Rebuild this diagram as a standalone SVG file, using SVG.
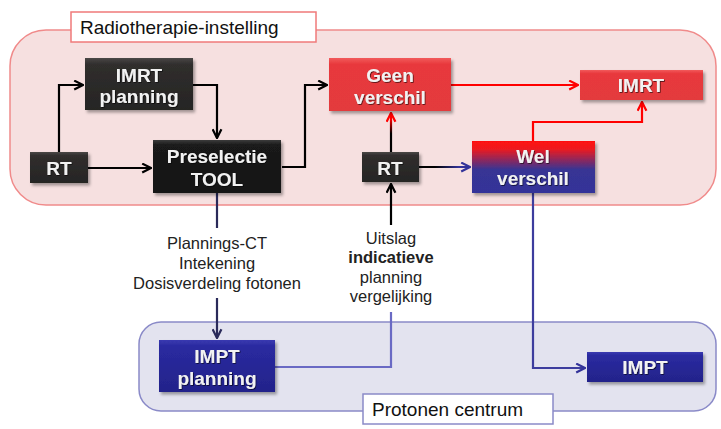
<svg xmlns="http://www.w3.org/2000/svg" width="721" height="429" viewBox="0 0 721 429">
<defs>
<style>
.lbl{font-family:"Liberation Sans",Arial,sans-serif;font-size:19px;fill:#111}
.nt{font-family:"Liberation Sans",Arial,sans-serif;font-size:19px;font-weight:bold;fill:#f2f2f2;text-anchor:middle}
.ann{font-family:"Liberation Sans",Arial,sans-serif;font-size:16.5px;fill:#222;text-anchor:middle}
.c{fill:none;stroke-width:2.2}
</style>
<filter id="sh" x="-10%" y="-10%" width="130%" height="140%">
<feDropShadow dx="2" dy="2.5" stdDeviation="1.5" flood-color="#000" flood-opacity="0.35"/>
</filter>
<filter id="ts" x="-10%" y="-10%" width="120%" height="130%">
<feDropShadow dx="0.8" dy="0.8" stdDeviation="0.5" flood-color="#000" flood-opacity="0.7"/>
</filter>
<linearGradient id="gDark" x1="0" y1="0" x2="0" y2="1">
<stop offset="0" stop-color="#4a4846"/><stop offset="0.12" stop-color="#302e2d"/><stop offset="1" stop-color="#262524"/>
</linearGradient>
<linearGradient id="gBlack" x1="0" y1="0" x2="0" y2="1">
<stop offset="0" stop-color="#3a3a3a"/><stop offset="0.1" stop-color="#1a1a1a"/><stop offset="1" stop-color="#141414"/>
</linearGradient>
<linearGradient id="gRed" x1="0" y1="0" x2="0" y2="1">
<stop offset="0" stop-color="#f25a5c"/><stop offset="0.12" stop-color="#e8393c"/><stop offset="1" stop-color="#e33a3c"/>
</linearGradient>
<linearGradient id="gBlue" x1="0" y1="0" x2="0" y2="1">
<stop offset="0" stop-color="#3a3ab0"/><stop offset="0.12" stop-color="#2a2aa0"/><stop offset="1" stop-color="#23238a"/>
</linearGradient>
<linearGradient id="gWel" x1="0" y1="0" x2="0" y2="1">
<stop offset="0" stop-color="#ff1010"/><stop offset="0.15" stop-color="#ee1a1e"/><stop offset="0.55" stop-color="#383494"/><stop offset="1" stop-color="#333399"/>
</linearGradient>
<linearGradient id="gUpRed" gradientUnits="userSpaceOnUse" x1="0" y1="152" x2="0" y2="111">
<stop offset="0.45" stop-color="#000"/><stop offset="0.8" stop-color="#ff0000"/>
</linearGradient>
<linearGradient id="gRightBlue" gradientUnits="userSpaceOnUse" x1="419" y1="0" x2="472" y2="0">
<stop offset="0.3" stop-color="#000"/><stop offset="0.75" stop-color="#333399"/>
</linearGradient>
<marker id="aK" viewBox="0 0 10 10" refX="9" refY="5" markerWidth="5" markerHeight="5" markerUnits="strokeWidth" orient="auto">
<path d="M1,1 L9,5 L1,9" fill="none" stroke="#000" stroke-width="2"/>
</marker>
<marker id="aR" viewBox="0 0 10 10" refX="9" refY="5" markerWidth="5" markerHeight="5" markerUnits="strokeWidth" orient="auto">
<path d="M1,1 L9,5 L1,9" fill="none" stroke="#ff0000" stroke-width="2"/>
</marker>
<marker id="aB" viewBox="0 0 10 10" refX="9" refY="5" markerWidth="5" markerHeight="5" markerUnits="strokeWidth" orient="auto">
<path d="M1,1 L9,5 L1,9" fill="none" stroke="#333399" stroke-width="2"/>
</marker>
<marker id="aN" viewBox="0 0 10 10" refX="9" refY="5" markerWidth="5" markerHeight="5" markerUnits="strokeWidth" orient="auto">
<path d="M1,1 L9,5 L1,9" fill="none" stroke="#2a2a5a" stroke-width="2"/>
</marker>
</defs>
<rect width="721" height="429" fill="#fff"/>

<g id="radiotherapie-container">
<rect x="10" y="30" width="706" height="175" rx="36" fill="#f6e0e0" stroke="#f08a8a" stroke-width="1.5"/>
<rect x="71" y="12" width="245" height="30" fill="#fff" stroke="#f07a7a" stroke-width="1.5"/>
<text class="lbl" x="80" y="34">Radiotherapie-instelling</text>
</g>

<g id="protonen-container">
<rect x="139" y="322" width="577" height="89" rx="22" fill="#e3e3ef" stroke="#8a8ac8" stroke-width="1.5"/>
<rect x="363" y="394" width="190" height="30" fill="#fff" stroke="#8a8ac8" stroke-width="1.5"/>
<text class="lbl" x="372" y="416">Protonen centrum</text>
</g>

<g id="connectors">
<path class="c" d="M59,152 V85 H83" stroke="#000" marker-end="url(#aK)"/>
<path class="c" d="M193,85 H217 V138" stroke="#000" marker-end="url(#aK)"/>
<path class="c" d="M88,168 H151" stroke="#000" marker-end="url(#aK)"/>
<path class="c" d="M282,167 H305 V85 H327" stroke="#000" marker-end="url(#aK)"/>
<path class="c" d="M451,85 H578" stroke="#ff0000" marker-end="url(#aR)"/>
<path class="c" d="M391,152 V113" stroke="url(#gUpRed)" marker-end="url(#aR)"/>
<path class="c" d="M419,167 H470" stroke="url(#gRightBlue)" marker-end="url(#aB)"/>
<path class="c" d="M533,141 V122 H642 V102" stroke="#ff0000" marker-end="url(#aR)"/>
<path class="c" d="M533,193 V368 H585" stroke="#3d3d9e" marker-end="url(#aB)"/>
<path class="c" d="M217,193 V228" stroke="#2a2a5a"/>
<path class="c" d="M217,298 V338" stroke="#2a2a5a" marker-end="url(#aN)"/>
<path class="c" d="M275,367 H391 V312" stroke="#6a6ac4"/>
<path class="c" d="M391,225 V184" stroke="#000" marker-end="url(#aK)"/>
<text class="ann" x="217" y="249">Plannings-CT</text>
<text class="ann" x="217" y="269">Intekening</text>
<text class="ann" x="217" y="289">Dosisverdeling fotonen</text>
<text class="ann" x="391" y="244">Uitslag</text>
<text class="ann" x="391" y="263" font-weight="bold" fill="#000">indicatieve</text>
<text class="ann" x="391" y="283">planning</text>
<text class="ann" x="391" y="302">vergelijking</text>
</g>

<g id="imrt-planning" filter="url(#sh)">
<rect x="85" y="58" width="108" height="52" fill="url(#gDark)"/>
<text class="nt" x="139" y="82" filter="url(#ts)">IMRT</text>
<text class="nt" x="139" y="103" filter="url(#ts)">planning</text>
</g>

<g id="rt-left" filter="url(#sh)">
<rect x="30" y="152" width="58" height="31" fill="url(#gDark)"/>
<text class="nt" x="59" y="175" filter="url(#ts)">RT</text>
</g>

<g id="preselectie-tool" filter="url(#sh)">
<rect x="153" y="140" width="128" height="53" fill="url(#gBlack)"/>
<text class="nt" x="217" y="163" filter="url(#ts)">Preselectie</text>
<text class="nt" x="217" y="186" filter="url(#ts)">TOOL</text>
</g>

<g id="geen-verschil" filter="url(#sh)">
<rect x="329" y="58" width="122" height="53" fill="url(#gRed)"/>
<text class="nt" x="390" y="82" filter="url(#ts)">Geen</text>
<text class="nt" x="390" y="104" filter="url(#ts)">verschil</text>
</g>

<g id="imrt" filter="url(#sh)">
<rect x="580" y="70" width="123" height="30" fill="url(#gRed)"/>
<text class="nt" x="641" y="92" filter="url(#ts)">IMRT</text>
</g>

<g id="rt-mid" filter="url(#sh)">
<rect x="362" y="152" width="57" height="30" fill="url(#gDark)"/>
<text class="nt" x="390" y="175" filter="url(#ts)">RT</text>
</g>

<g id="wel-verschil" filter="url(#sh)">
<rect x="472" y="141" width="123" height="52" fill="url(#gWel)"/>
<text class="nt" x="533" y="163" filter="url(#ts)">Wel</text>
<text class="nt" x="533" y="185" filter="url(#ts)">verschil</text>
</g>

<g id="impt-planning" filter="url(#sh)">
<rect x="159" y="340" width="116" height="52" fill="url(#gBlue)"/>
<text class="nt" x="217" y="363" filter="url(#ts)">IMPT</text>
<text class="nt" x="217" y="385" filter="url(#ts)">planning</text>
</g>

<g id="impt" filter="url(#sh)">
<rect x="587" y="352" width="116" height="30" fill="url(#gBlue)"/>
<text class="nt" x="645" y="374" filter="url(#ts)">IMPT</text>
</g>
</svg>
